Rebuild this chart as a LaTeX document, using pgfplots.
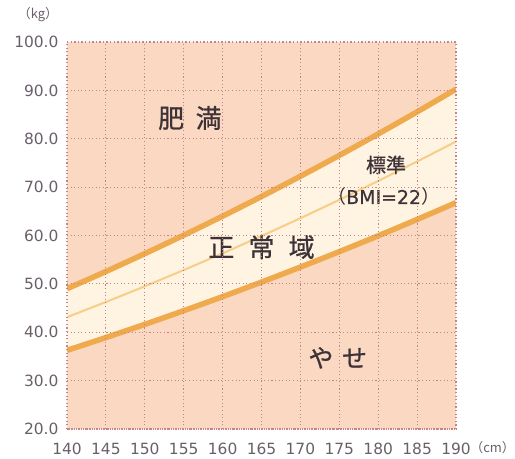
\documentclass[border=0pt]{standalone}
\usepackage{pgfplots}
\pgfplotsset{compat=1.18}
\usepgfplotslibrary{fillbetween}
\usepackage{fontspec}
\setmainfont{DejaVu Sans}
\newfontfamily\jp{Noto Sans CJK JP}
\newfontfamily\jpb[FakeBold=0.9]{Noto Sans CJK JP}
\newfontfamily\latb[FakeBold=0.6]{DejaVu Sans}

\definecolor{bgpeach}{RGB}{250,216,194}
\definecolor{cream}{RGB}{255,243,226}
\definecolor{bmiline}{RGB}{240,170,78}
\definecolor{midline}{RGB}{247,206,135}
\definecolor{gridc}{RGB}{196,132,140}
\definecolor{ticktext}{RGB}{105,95,105}
\definecolor{labtext}{RGB}{60,50,55}

\begin{document}
\begin{tikzpicture}
\begin{axis}[
    at={(67bp,29bp)}, anchor=south west,
    scale only axis,
    width=389bp, height=387bp,
    xmin=140, xmax=190, ymin=20, ymax=100,
    xtick={140,145,...,190},
    ytick={20,30,...,100},
    yticklabel={\pgfmathprintnumber[fixed,fixed zerofill,precision=1]{\tick}},
    /pgf/number format/assume math mode=true,
    tick label style={font=\fontsize{15.5}{15.5}\selectfont, text=ticktext},
    major tick length=0pt,
    xtick pos=bottom, ytick pos=left,
    xticklabel style={yshift=-11bp},
    yticklabel style={xshift=-5bp},
    grid=major,
    grid style={gridc, line width=1.1pt, dash pattern=on 1.1pt off 2.5pt},
    axis line style={gridc, line width=1.1pt, dash pattern=on 1.1pt off 2.5pt},
    axis background/.style={fill=bgpeach},
    axis on top,
]
\addplot[name path=upper, draw=none, smooth] coordinates {
    (140,49.00) (145,52.56) (150,56.25) (155,60.06) (160,64.00) (165,68.06)
    (170,72.25) (175,76.56) (180,81.00) (185,85.56) (190,90.25)
};
\addplot[name path=lower, draw=none, smooth] coordinates {
    (140,36.26) (145,38.90) (150,41.63) (155,44.45) (160,47.36) (165,50.37)
    (170,53.47) (175,56.66) (180,59.94) (185,63.32) (190,66.79)
};
\addplot[cream] fill between[of=upper and lower];
\addplot[bmiline, line width=5.5bp, smooth] coordinates {
    (140,49.00) (145,52.56) (150,56.25) (155,60.06) (160,64.00) (165,68.06)
    (170,72.25) (175,76.56) (180,81.00) (185,85.56) (190,90.25)
};
\addplot[bmiline, line width=5.5bp, smooth] coordinates {
    (140,36.26) (145,38.90) (150,41.63) (155,44.45) (160,47.36) (165,50.37)
    (170,53.47) (175,56.66) (180,59.94) (185,63.32) (190,66.79)
};
\addplot[midline, line width=2bp, smooth] coordinates {
    (140,43.12) (145,46.26) (150,49.50) (155,52.86) (160,56.32) (165,59.90)
    (170,63.58) (175,67.38) (180,71.28) (185,75.30) (190,79.42)
};
\node[text=labtext, font=\jpb\fontsize{26}{26}\selectfont] at (axis cs:155.8,84.3) {肥\hspace{0.45em}満};
\node[text=labtext, font=\jpb\fontsize{26}{26}\selectfont] at (axis cs:165,57.6) {正\hspace{0.55em}常\hspace{0.55em}域};
\node[text=labtext, font=\jpb\fontsize{20}{20}\selectfont] at (axis cs:181,74.6) {標準};
\node[text=labtext, font=\fontsize{19}{19}\selectfont] at (axis cs:180.7,68.0) {{\jp （}{\latb BMI=22}{\jp ）}};
\node[text=labtext, font=\jpb\fontsize{25}{25}\selectfont] at (axis cs:174.8,34.7) {や\hspace{0.35em}せ};
\end{axis}
\node[text=ticktext, font=\jp\fontsize{13}{13}\selectfont, inner sep=0pt] at (38bp,443bp) {（kg）};
\node[text=ticktext, font=\jp\fontsize{13}{13}\selectfont, anchor=east, inner sep=0pt] at (515bp,10bp) {（cm）};
\path (0,0) rectangle (515bp,458bp);
\end{tikzpicture}
\end{document}
